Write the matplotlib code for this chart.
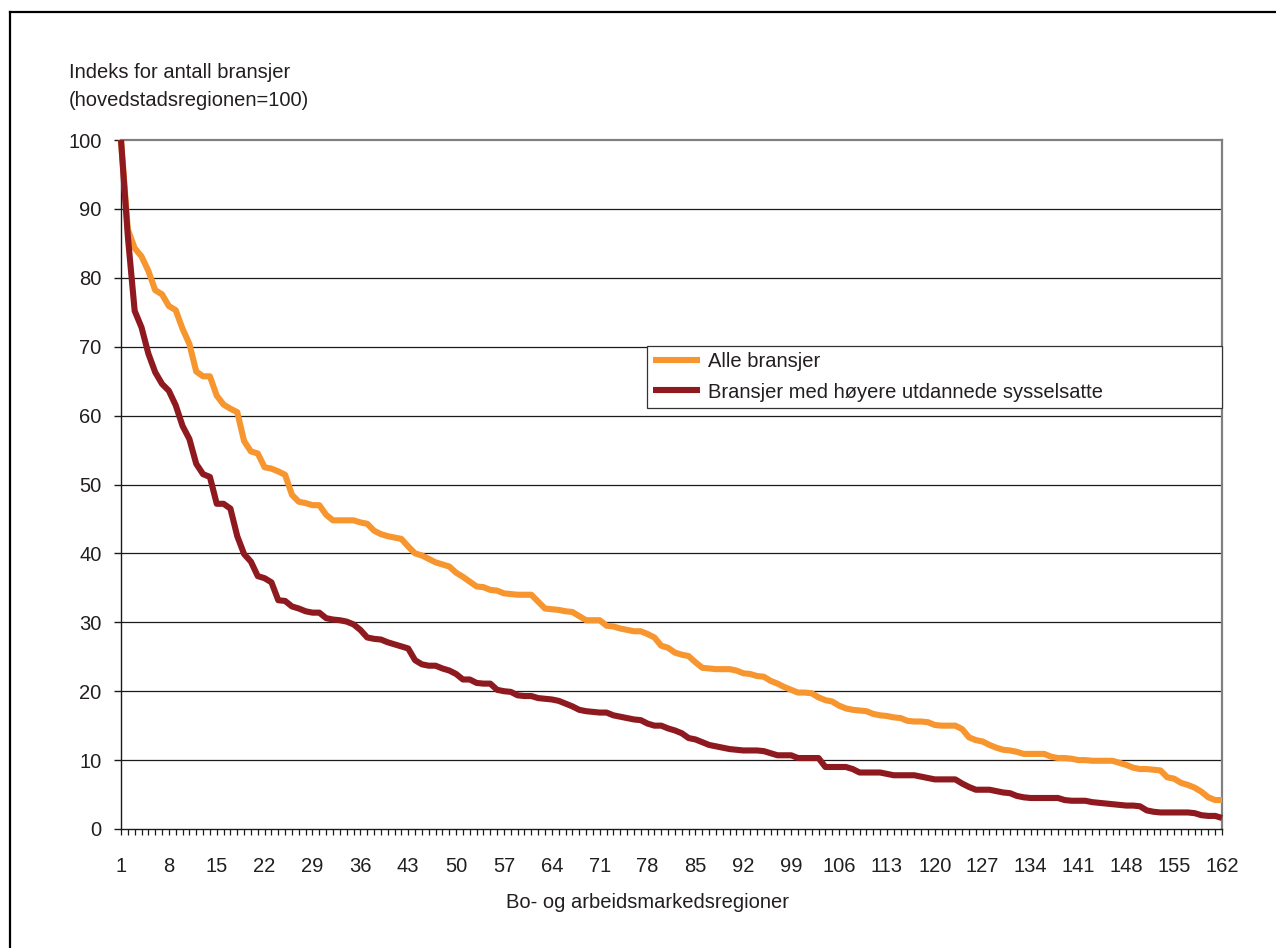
import matplotlib
matplotlib.use("Agg")
import matplotlib.pyplot as plt
from matplotlib.lines import Line2D
import numpy as np

plt.rcParams["font.family"] = ["Liberation Sans", "DejaVu Sans"]

# Index for number of industries per labour-market region, sorted descending
regions = list(range(1, 163))

alle_bransjer = [
    100, 87, 84.3, 83.1, 81, 78.2, 77.6, 75.9, 75.3, 72.6,
    70.4, 66.4, 65.7, 65.7, 62.9, 61.6, 61.0, 60.5, 56.3, 54.8,
    54.5, 52.5, 52.3, 51.9, 51.4, 48.5, 47.5, 47.3, 47.0, 47.0,
    45.6, 44.8, 44.8, 44.8, 44.8, 44.5, 44.3, 43.3, 42.8, 42.5,
    42.3, 42.1, 41.0, 40.0, 39.7, 39.2, 38.7, 38.4, 38.1, 37.2,
    36.6, 35.9, 35.2, 35.1, 34.7, 34.6, 34.2, 34.1, 34.0, 34.0,
    34.0, 33.0, 32.0, 31.9, 31.8, 31.6, 31.5, 30.9, 30.3, 30.3,
    30.3, 29.5, 29.4, 29.1, 28.9, 28.7, 28.7, 28.3, 27.8, 26.6,
    26.3, 25.6, 25.3, 25.1, 24.2, 23.4, 23.3, 23.2, 23.2, 23.2,
    23.0, 22.6, 22.5, 22.2, 22.1, 21.5, 21.1, 20.6, 20.2, 19.8,
    19.8, 19.7, 19.1, 18.7, 18.5, 17.9, 17.5, 17.3, 17.2, 17.1,
    16.7, 16.5, 16.4, 16.2, 16.1, 15.7, 15.6, 15.6, 15.5, 15.1,
    15.0, 15.0, 15.0, 14.5, 13.3, 12.9, 12.7, 12.2, 11.8, 11.5,
    11.4, 11.2, 10.9, 10.9, 10.9, 10.9, 10.5, 10.3, 10.3, 10.2,
    10.0, 10.0, 9.9, 9.9, 9.9, 9.9, 9.6, 9.3, 8.9, 8.7,
    8.7, 8.6, 8.5, 7.5, 7.3, 6.7, 6.4, 6.0, 5.4, 4.6,
    4.2, 4.2,
]

hoyere_utdannede = [
    100, 86, 75.2, 72.8, 69.0, 66.3, 64.6, 63.6, 61.5, 58.5,
    56.6, 53.0, 51.5, 51.1, 47.2, 47.2, 46.5, 42.5, 39.9, 38.8,
    36.7, 36.4, 35.8, 33.2, 33.1, 32.3, 32.0, 31.6, 31.4, 31.4,
    30.6, 30.4, 30.3, 30.1, 29.7, 28.9, 27.8, 27.6, 27.5, 27.1,
    26.8, 26.5, 26.2, 24.5, 23.9, 23.7, 23.7, 23.3, 23.0, 22.5,
    21.7, 21.7, 21.2, 21.1, 21.1, 20.2, 20.0, 19.9, 19.4, 19.3,
    19.3, 19.0, 18.9, 18.8, 18.6, 18.2, 17.8, 17.3, 17.1, 17.0,
    16.9, 16.9, 16.5, 16.3, 16.1, 15.9, 15.8, 15.3, 15.0, 15.0,
    14.6, 14.3, 13.9, 13.2, 13.0, 12.6, 12.2, 12.0, 11.8, 11.6,
    11.5, 11.4, 11.4, 11.4, 11.3, 11.0, 10.7, 10.7, 10.7, 10.3,
    10.3, 10.3, 10.3, 9.0, 9.0, 9.0, 9.0, 8.7, 8.2, 8.2,
    8.2, 8.2, 8.0, 7.8, 7.8, 7.8, 7.8, 7.6, 7.4, 7.2,
    7.2, 7.2, 7.2, 6.6, 6.1, 5.7, 5.7, 5.7, 5.5, 5.3,
    5.2, 4.8, 4.6, 4.5, 4.5, 4.5, 4.5, 4.5, 4.2, 4.1,
    4.1, 4.1, 3.9, 3.8, 3.7, 3.6, 3.5, 3.4, 3.4, 3.3,
    2.7, 2.5, 2.4, 2.4, 2.4, 2.4, 2.4, 2.3, 2.0, 1.9,
    1.9, 1.6,
]

series_labels = ["Alle bransjer", "Bransjer med høyere utdannede sysselsatte"]
y_ticks = list(range(0, 101, 10))
x_label_step = 7

W, H = 1276, 948
fig = plt.figure(figsize=(W / 100, H / 100), dpi=100)

# plot area in pixel coordinates
left_px, right_px, top_px, bottom_px = 121, 1222, 140, 829
ax = fig.add_axes([left_px / W, (H - bottom_px) / H,
                   (right_px - left_px) / W, (bottom_px - top_px) / H])

orange = "#F7962F"
darkred = "#8E1A20"
txt = "#231F20"
fs = 14.5

ax.plot(regions, alle_bransjer, color=orange, lw=4.4, label=series_labels[0],
        solid_joinstyle="round", solid_capstyle="butt", clip_on=False, zorder=3)
ax.plot(regions, hoyere_utdannede, color=darkred, lw=4.4, label=series_labels[1],
        solid_joinstyle="round", solid_capstyle="butt", clip_on=False, zorder=4)

ax.set_xlim(1, 162)
ax.set_ylim(0, 100)

# horizontal gridlines
for v in y_ticks[1:-1]:
    ax.axhline(v, color="#1a1a1a", lw=0.9, zorder=1)

for side in ("top", "right"):
    ax.spines[side].set_color("#808080")
    ax.spines[side].set_linewidth(1.6)
for side in ("left", "bottom"):
    ax.spines[side].set_color("#1a1a1a")
    ax.spines[side].set_linewidth(1.0)

ax.set_yticks(y_ticks)
ax.set_yticklabels([str(v) for v in y_ticks])
ax.tick_params(axis="y", direction="out", length=5, width=1.0, color="#1a1a1a",
               pad=9, labelsize=fs, labelcolor=txt)

ax.set_xticks(regions)
ax.set_xticklabels([str(r) if (r - 1) % x_label_step == 0 else "" for r in regions])
ax.tick_params(axis="x", direction="out", length=4.5, width=0.9, color="#1a1a1a",
               pad=16, labelsize=fs, labelcolor=txt)

leg = ax.legend(loc="upper left", bbox_to_anchor=(0.4777, 0.701, 0.5223, 0.0),
                mode="expand", borderaxespad=0, fontsize=fs, frameon=True,
                fancybox=False, framealpha=1, edgecolor="#333333",
                handlelength=2.3, handletextpad=0.4, labelspacing=0.55,
                borderpad=0.32)
leg.get_frame().set_linewidth(0.9)
for t in leg.get_texts():
    t.set_color(txt)

# axis titles
fig.text(69 / W, 1 - 78 / H, "Indeks for antall bransjer", fontsize=fs,
         color=txt, ha="left", va="baseline")
fig.text(69 / W, 1 - 106 / H, "(hovedstadsregionen=100)", fontsize=fs,
         color=txt, ha="left", va="baseline")
fig.text(648 / W, 1 - 903 / H, "Bo- og arbeidsmarkedsregioner", fontsize=fs,
         color=txt, ha="center", va="center")

# outer frame (top and left edges)
fig.add_artist(Line2D([10 / W, 1.0], [1 - 12 / H, 1 - 12 / H], color="black",
                      lw=1.6, transform=fig.transFigure))
fig.add_artist(Line2D([10 / W, 10 / W], [1 - 12 / H, 0.0], color="black",
                      lw=1.6, transform=fig.transFigure))

fig.savefig("out.png", dpi=100, facecolor="white")
